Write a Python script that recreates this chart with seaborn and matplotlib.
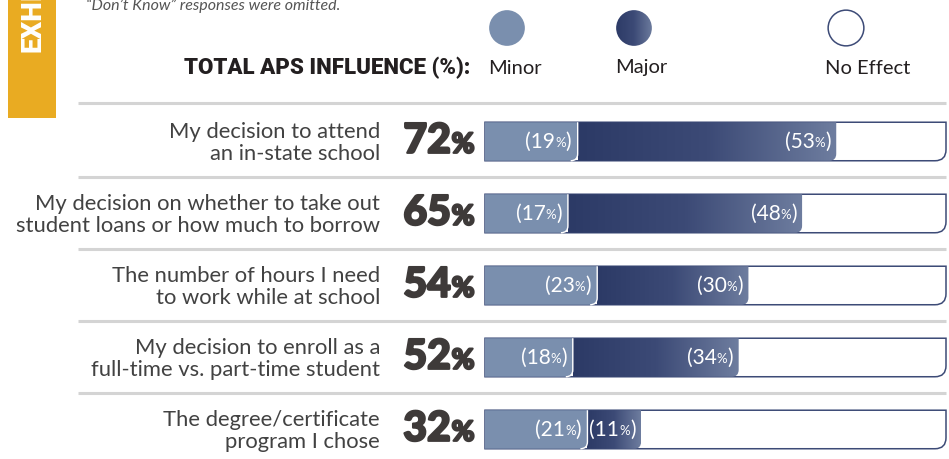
import numpy as np
import pandas as pd
import matplotlib
matplotlib.use("Agg")
import matplotlib.pyplot as plt
import seaborn as sns
import matplotlib.transforms as mtrans
import matplotlib.patheffects as pe
from matplotlib.path import Path
from matplotlib.patches import PathPatch, Circle, Rectangle
from matplotlib.offsetbox import TextArea, HPacker, AnnotationBbox
from matplotlib.colors import LinearSegmentedColormap

# ---------------- data ----------------
categories = [
    "My decision to attend\nan in-state school",
    "My decision on whether to take out\nstudent loans or how much to borrow",
    "The number of hours I need\nto work while at school",
    "My decision to enroll as a\nfull-time vs. part-time student",
    "The degree/certificate\nprogram I chose",
]
minor = [19, 17, 23, 18, 21]
major = [53, 48, 30, 34, 11]
total = [72, 65, 54, 52, 32]
legend_labels = ["Minor", "Major", "No Effect"]
header = "TOTAL APS INFLUENCE (%):"
note = "\u201cDon\u2019t Know\u201d responses were omitted."
exhibit = "EXHIBIT"

# ---------------- style ----------------
sns.set_theme(style="white")
plt.rcParams["font.family"] = ["Lato", "DejaVu Sans"]

MIN_C = "#7a8fae"
MAJ_L = "#2c3a66"
MAJ_R = "#6e7d9f"
EDGE = "#3d4b77"
TXT = "#424242"
NUM = "#3e3a39"
grad_cmap = LinearSegmentedColormap.from_list("maj", [MAJ_L, "#3c4a76", MAJ_R])

W, H = 949, 459
fig = plt.figure(figsize=(W / 100, H / 100), dpi=100)
fig.patch.set_facecolor("white")

def fx(x):
    return x / W

def fy(y):
    return 1 - y / H

AX_L, AX_R, AX_T = 485, 946, 105.5
ax = fig.add_axes([fx(AX_L), 0, (AX_R - AX_L) / W, (H - AX_T) / H])

df = pd.DataFrame({"cat": categories, "minor": minor, "major": major, "total": total})
BW = 0.535
sns.barplot(data=df, y="cat", x="total", orient="h", color=MAJ_L, width=BW,
            saturation=1, ax=ax)
n = len(df)
sns.barplot(data=df, y="cat", x="minor", orient="h", color=MIN_C, width=BW,
            saturation=1, ax=ax)

XMAX = 94.5
ax.set_xlim(0, XMAX)
ax.set_ylim(n - 0.59, -0.5)
ax.axis("off")

sx = (AX_R - AX_L) / XMAX
sy = (H - AX_T) / (n - 0.59 + 0.5)

def right_round(x0, x1, y0, y1, r_px):
    rx, ry = r_px / sx, r_px / sy
    verts = [(x0, y0), (x1, y0), (x1, y1 - ry), (x1, y1), (x1 - rx, y1),
             (x0, y1), (x0, y0)]
    codes = [Path.MOVETO, Path.LINETO, Path.LINETO, Path.CURVE3, Path.CURVE3,
             Path.LINETO, Path.CLOSEPOLY]
    return Path(verts, codes)

def right_edge(x1, y0, y1, r_px):
    rx, ry = r_px / sx, r_px / sy
    verts = [(x1, y0), (x1, y1 - ry), (x1, y1), (x1 - rx, y1)]
    codes = [Path.MOVETO, Path.LINETO, Path.CURVE3, Path.CURVE3]
    return Path(verts, codes)

maj_patches = ax.patches[:n]
min_patches = ax.patches[n:2 * n]
grad = np.linspace(0, 1, 256).reshape(1, -1)
thick = [pe.withStroke(linewidth=1.6, foreground=NUM)]

def pct_box(num):
    a = TextArea(num, textprops=dict(fontsize=29.5, color=NUM, weight="black",
                                     path_effects=thick))
    b = TextArea("%", textprops=dict(fontsize=20, color=NUM, weight="black",
                                     path_effects=thick))
    return HPacker(children=[a, b], align="baseline", pad=0, sep=0.5)

def paren_box(num, color):
    tp = dict(fontsize=15, color=color, weight="normal")
    tps = dict(fontsize=9.5, color=color, weight="normal")
    return HPacker(children=[TextArea("(" + str(num), textprops=tp),
                             TextArea("%", textprops=tps),
                             TextArea(")", textprops=tp)],
                   align="baseline", pad=0, sep=0)

for i in range(n):
    pm, pn = maj_patches[i], min_patches[i]
    y0 = pm.get_y()
    y1 = y0 + pm.get_height()
    xm_end = pm.get_x() + pm.get_width()
    xn_end = pn.get_x() + pn.get_width()
    pm.set_visible(False)
    pn.set_visible(False)

    ax.add_patch(PathPatch(right_round(0, XMAX, y0, y1, 11), facecolor="white",
                           edgecolor=EDGE, lw=1.1, zorder=1, clip_on=False))
    mp = PathPatch(right_round(0, xm_end, y0, y1, 7), facecolor="none",
                   edgecolor="none", zorder=2)
    ax.add_patch(mp)
    im = ax.imshow(grad, extent=(xn_end, xm_end, y1, y0), cmap=grad_cmap,
                   aspect="auto", zorder=2, interpolation="bilinear")
    im.set_clip_path(mp)
    ax.add_patch(PathPatch(right_round(0, xn_end, y0, y1, 7), facecolor=MIN_C,
                           edgecolor="none", zorder=3))
    ax.add_patch(PathPatch(right_edge(xn_end, y0, y1, 7), facecolor="none",
                           edgecolor="white", lw=1.0, zorder=4))

    yc = y0 + pm.get_height() / 2
    ab = AnnotationBbox(paren_box(minor[i], "white"), (xn_end, yc), xycoords="data",
                        box_alignment=(1, 0.5), xybox=(-4.5, 0), boxcoords="offset points",
                        frameon=False, pad=0, zorder=5)
    ax.add_artist(ab)
    ab = AnnotationBbox(paren_box(major[i], "white"), (xm_end, yc), xycoords="data",
                        box_alignment=(1, 0.5), xybox=(-4.0, 0), boxcoords="offset points",
                        frameon=False, pad=0, zorder=5)
    ax.add_artist(ab)

    ab = AnnotationBbox(pct_box(str(total[i])),
                        (0, yc), xycoords="data", box_alignment=(1, 0.5),
                        xybox=(-7.5, 0.5), boxcoords="offset points", frameon=False,
                        pad=0, annotation_clip=False)
    ax.add_artist(ab)

    ax.annotate(categories[i], xy=(0, yc + 0.02), xytext=(-(AX_L - 380) * 0.72, 0),
                textcoords="offset points", ha="right", va="center",
                fontsize=15.8, color=TXT, linespacing=1.12, annotation_clip=False)

sep_tr = mtrans.blended_transform_factory(fig.transFigure, ax.transData)
seps = np.arange(n + 1) - 0.5
seps[0] = -0.54
for s in seps:
    ax.plot([fx(78), fx(946)], [s, s], transform=sep_tr, color="#d4d4d4",
            lw=2.2, clip_on=False, zorder=0, solid_capstyle="butt")

fig.text(fx(470), fy(68), header, ha="right", va="center", fontsize=16,
         weight="heavy", color="#231f20", family=["Roboto", "DejaVu Sans"])

leg_x = [507, 634, 846]
lab_x = [515, 641, 868]
for k, (cx, lx, lab) in enumerate(zip(leg_x, lab_x, legend_labels)):
    r = 18
    lax = fig.add_axes([fx(cx - r - 1), fy(28 + r + 1), (2 * r + 2) / W, (2 * r + 2) / H])
    lax.set_xlim(0, 1)
    lax.set_ylim(0, 1)
    lax.axis("off")
    if k == 0:
        lax.add_patch(Circle((0.5, 0.5), 0.47, facecolor=MIN_C, edgecolor="none"))
    elif k == 1:
        c = Circle((0.5, 0.5), 0.47, facecolor="none", edgecolor="none")
        lax.add_patch(c)
        gi = lax.imshow(grad, extent=(0, 1, 0, 1), cmap=grad_cmap, aspect="auto")
        gi.set_clip_path(c)
    else:
        lax.add_patch(Circle((0.5, 0.5), 0.47, facecolor="white", edgecolor=EDGE, lw=1.1))
    fig.text(fx(lx), fy(68), lab, ha="center", va="center", fontsize=14.5, color="#231f20")

fig.patches.append(Rectangle((fx(8), fy(118)), 48 / W, 118 / H, transform=fig.transFigure,
                             facecolor="#e9ab22", edgecolor="none", zorder=0))
fig.text(fx(33), fy(52), exhibit, rotation=90, ha="center", va="bottom", color="white",
         fontsize=20, weight="heavy", family=["Roboto", "DejaVu Sans"])
fig.text(fx(86), fy(10), note, ha="left", va="baseline", fontsize=11.5, style="italic",
         color="#555555")

fig.savefig("out.png", dpi=100, facecolor="white")
